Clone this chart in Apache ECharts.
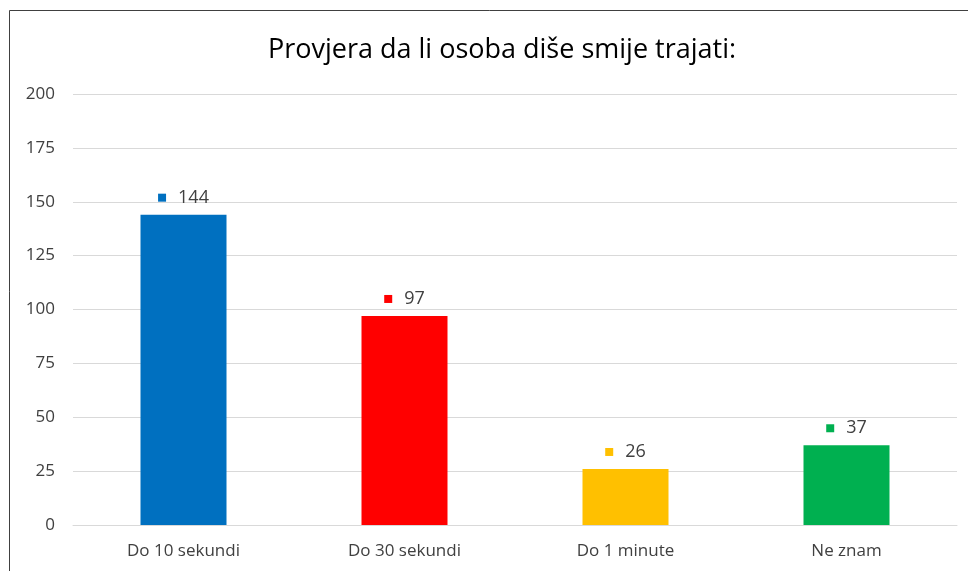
<!DOCTYPE html>
<html>
<head>
<meta charset="utf-8">
<script src="https://cdn.jsdelivr.net/npm/echarts@6/dist/echarts.min.js"></script>
<style>
  html, body { margin: 0; padding: 0; background: #fff; }
  #chart { width: 968px; height: 571px; }
</style>
</head>
<body>
<div id="chart"></div>
<script>
// podaci
var categories = ["Do 10 sekundi", "Do 30 sekundi", "Do 1 minute", "Ne znam"];
var values = [144, 97, 26, 37];
var colors = ["#0070C0", "#FF0000", "#FFC000", "#00B050"];
var yTicks = { min: 0, max: 200, step: 25 };

var FONT = "'Open Sans', Lato, sans-serif";

var chartObj = echarts.init(document.getElementById("chart"));

var option = {
  backgroundColor: "#fff",
  animation: false,
  title: {
    text: "Provjera da li osoba diše smije trajati:",
    left: 497,
    textAlign: "center",
    top: 32,
    textStyle: { fontFamily: FONT, fontSize: 27, fontWeight: "normal", color: "#000" }
  },
  graphic: [{
    type: "rect",
    shape: { x: 9.5, y: 10.5, width: 1000, height: 600 },
    style: { fill: "none", stroke: "#404040", lineWidth: 1 },
    silent: true
  }],
  grid: { left: 73, right: 11, top: 94, bottom: 46, containLabel: false },
  xAxis: {
    type: "category",
    data: categories,
    axisTick: { show: false },
    axisLine: { lineStyle: { color: "#D9D9D9", width: 1 } },
    axisLabel: { fontFamily: FONT, fontSize: 17, color: "#404040", margin: 18 }
  },
  yAxis: {
    type: "value",
    min: yTicks.min,
    max: yTicks.max,
    interval: yTicks.step,
    axisLine: { show: false },
    axisTick: { show: false },
    splitLine: { lineStyle: { color: "#D9D9D9", width: 1 } },
    axisLabel: { fontFamily: FONT, fontSize: 17, color: "#404040", margin: 18 }
  },
  series: [{
    type: "bar",
    barWidth: 86,
    data: values.map(function (v, i) {
      return {
        value: v,
        itemStyle: { color: colors[i] },
        label: {
          formatter: "{sq|}{gap|}{v|{c}}",
          rich: {
            sq: { width: 8, height: 8, backgroundColor: colors[i] },
            gap: { width: 12 },
            v: { fontFamily: FONT, fontSize: 18, color: "#404040" }
          }
        }
      };
    }),
    label: {
      show: true,
      position: "top",
      distance: 8
    }
  }]
};

chartObj.setOption(option, true);
</script>
</body>
</html>
